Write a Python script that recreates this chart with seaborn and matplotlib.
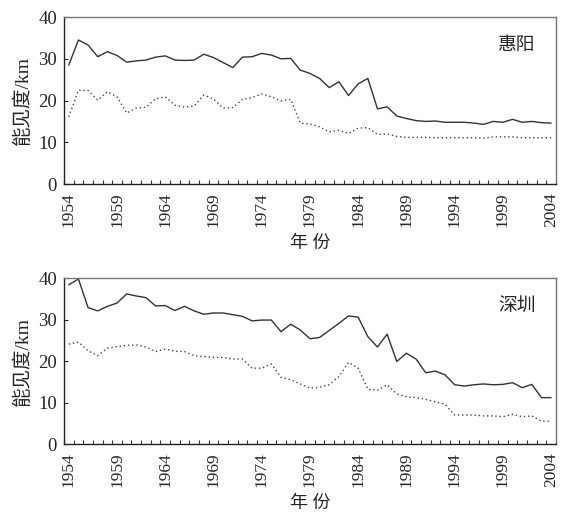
import numpy as np
import pandas as pd
import matplotlib
matplotlib.use("Agg")
import matplotlib.pyplot as plt
import seaborn as sns
from matplotlib.ticker import MultipleLocator

# years 1954-2004
years = list(range(1954, 2005))

# 惠阳: solid / dotted series
huiyang_a = [28.5, 34.5, 33.3, 30.5, 31.7, 30.8, 29.2, 29.5, 29.7, 30.4,
             30.7, 29.7, 29.6, 29.7, 31.1, 30.3, 29.1, 27.9, 30.4, 30.5,
             31.3, 30.9, 30.0, 30.1, 27.3, 26.5, 25.3, 23.1, 24.5, 21.2,
             24.0, 25.3, 18.0, 18.5, 16.3, 15.7, 15.2, 15.0, 15.1, 14.8,
             14.8, 14.8, 14.6, 14.3, 15.0, 14.8, 15.5, 14.8, 15.0, 14.7, 14.6]
huiyang_b = [16.1, 22.5, 22.4, 20.1, 22.1, 20.9, 17.0, 18.2, 18.4, 20.4,
             20.9, 18.9, 18.4, 18.7, 21.3, 20.4, 18.2, 18.3, 20.3, 20.7,
             21.6, 20.9, 19.9, 20.3, 14.6, 14.4, 13.7, 12.5, 12.9, 12.1,
             13.4, 13.5, 11.9, 12.0, 11.4, 11.2, 11.2, 11.2, 11.1, 11.1,
             11.1, 11.1, 11.1, 11.0, 11.3, 11.3, 11.3, 11.1, 11.1, 11.1, 11.1]

# 深圳: solid / dotted series
shenzhen_a = [38.4, 39.8, 32.9, 32.1, 33.2, 34.0, 36.2, 35.7, 35.3, 33.3,
              33.4, 32.2, 33.2, 32.1, 31.3, 31.6, 31.6, 31.2, 30.8, 29.7,
              29.9, 29.9, 27.1, 28.9, 27.5, 25.4, 25.7, 27.4, 29.1, 30.9,
              30.6, 25.9, 23.4, 26.5, 19.9, 21.9, 20.5, 17.2, 17.6, 16.7,
              14.3, 14.0, 14.3, 14.5, 14.3, 14.4, 14.8, 13.6, 14.4, 11.2, 11.2]
shenzhen_b = [24.1, 24.6, 22.5, 21.3, 23.1, 23.5, 23.8, 23.9, 23.4, 22.3,
              22.9, 22.4, 22.3, 21.3, 21.1, 20.9, 20.9, 20.5, 20.5, 18.3,
              18.3, 19.3, 16.1, 15.5, 14.5, 13.5, 13.7, 14.3, 16.3, 19.7,
              18.3, 13.2, 13.0, 14.3, 12.1, 11.4, 11.2, 10.8, 10.2, 9.6,
              7.0, 7.0, 7.0, 6.8, 6.8, 6.6, 7.2, 6.6, 6.8, 5.5, 5.5]

stations = ["惠阳", "深圳"]
xticks = list(range(1954, 2005, 5))

sns.set_style("ticks")
fonts = ["Liberation Serif", "Noto Sans CJK SC", "DejaVu Sans"]
plt.rcParams["font.family"] = fonts

fig = plt.figure(figsize=(5.61, 5.17), dpi=100)
ax1 = fig.add_axes([0.114, 0.644, 0.877, 0.323])
ax2 = fig.add_axes([0.114, 0.141, 0.877, 0.321])

panels = [(ax1, stations[0], huiyang_a, huiyang_b),
          (ax2, stations[1], shenzhen_a, shenzhen_b)]

for ax, name, sa, sb in panels:
    df = pd.DataFrame({"year": years + years,
                       "vis": sa + sb,
                       "kind": ["a"] * len(years) + ["b"] * len(years)})
    sns.lineplot(data=df[df.kind == "a"], x="year", y="vis", ax=ax,
                 color="#333333", lw=1.0, linestyle="-")
    sns.lineplot(data=df[df.kind == "b"], x="year", y="vis", ax=ax,
                 color="#444444", lw=1.0, linestyle=(0, (1, 2)))

    ax.set_xlim(1953.5, 2004.5)
    ax.set_ylim(0, 40)
    ax.set_xticks(xticks)
    ax.set_xticklabels([str(y) for y in xticks], rotation=90, fontsize=12.5)
    ax.xaxis.set_minor_locator(MultipleLocator(1, offset=0.5))
    ax.tick_params(axis="x", which="major", length=0, pad=6)
    ax.tick_params(axis="x", which="minor", direction="in", length=3,
                   width=0.8, color="#333333")
    ax.set_yticks([0, 10, 20, 30, 40])
    ax.tick_params(axis="y", direction="in", length=3, width=0.8,
                   labelsize=13.5, pad=5)
    ax.set_xlabel("")
    ax.set_ylabel("")

    for s in ["left", "bottom"]:
        ax.spines[s].set_color("#222222")
        ax.spines[s].set_linewidth(1.0)
    for s in ["top", "right"]:
        ax.spines[s].set_visible(True)
        ax.spines[s].set_color("#777777")
        ax.spines[s].set_linewidth(1.0)

    ax.text(-0.085, 0.5, "能见度/km", transform=ax.transAxes, rotation=90,
            ha="center", va="center", fontsize=14, family=fonts)
    ax.text(0.5, -0.355, "年 份", transform=ax.transAxes,
            ha="center", va="center", fontsize=13, family=fonts)
    ax.text(0.92, 0.83, name, transform=ax.transAxes,
            ha="center", va="center", fontsize=13.5, family=fonts)

fig.savefig("out.png", dpi=100)
